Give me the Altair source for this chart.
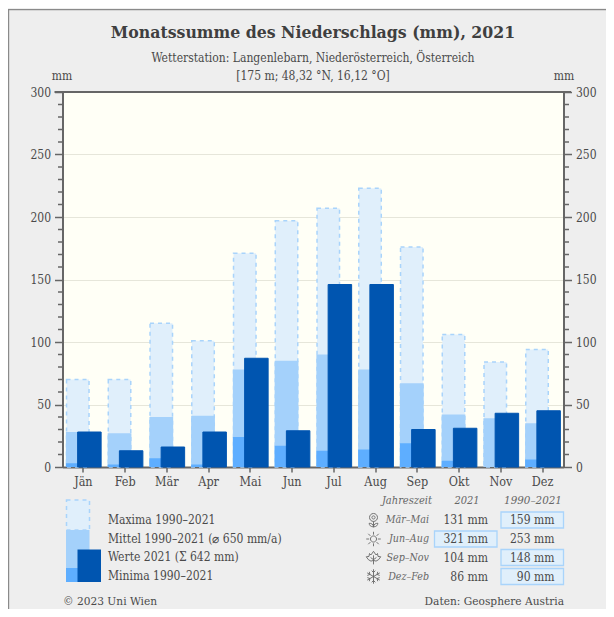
import altair as alt
import pandas as pd

months = ["Jän", "Feb", "Mär", "Apr", "Mai", "Jun", "Jul", "Aug", "Sep", "Okt", "Nov", "Dez"]
maxima = [70, 70, 115, 101, 171, 197, 207, 223, 176, 106, 84, 94]
means = [28, 27, 40, 41, 78, 85, 90, 78, 67, 42, 39, 35]
minima = [3, 2, 7, 2, 24, 17, 13, 14, 19, 5, 0, 6]
values_2021 = [28, 13, 16, 28, 87, 29, 146, 146, 30, 31, 43, 45]
major_ticks = [0, 50, 100, 150, 200, 250, 300]
minor_ticks = [v for v in range(10, 300, 10) if v % 50]

legend_labels = ["Maxima 1990–2021", "Mittel 1990–2021 (⌀ 650 mm/a)", "Werte 2021 (Σ 642 mm)", "Minima 1990–2021"]
season_names = ["Mär–Mai", "Jun–Aug", "Sep–Nov", "Dez–Feb"]
season_2021 = ["131 mm", "321 mm", "104 mm", "86 mm"]
season_clim = ["159 mm", "253 mm", "148 mm", "90 mm"]

FONT = "DejaVu Serif Condensed"
INK = "#4a4a4a"
GREY = "#666666"
C_MAX, C_MAX_LINE = "#e0effb", "#a9d4fb"
C_MEAN, C_MIN, C_VAL = "#a4d1fb", "#5eaeff", "#0055b0"
OX, OY = 62.5, 92.0
W, H = 501, 375

ring = "M{r},{y} A{r},{r} 0 1 1 -{r},{y} A{r},{r} 0 1 1 {r},{y} Z "
ICON_FLOWER = (ring.format(r=0.22, y=-0.35) + ring.format(r=0.55, y=-0.35)
               + "M0,0.2 L0,1 M0,0.95 C-0.4,0.95 -0.6,0.7 -0.6,0.45 C-0.3,0.45 -0.05,0.6 0,0.85 "
               + "M0,0.95 C0.4,0.95 0.6,0.7 0.6,0.45 C0.3,0.45 0.05,0.6 0,0.85")
ICON_SUN = (ring.format(r=0.42, y=0)
            + "M0,-0.6 L0,-1 M0,0.6 L0,1 M-0.6,0 L-1,0 M0.6,0 L1,0 "
            + "M0.43,-0.43 L0.72,-0.72 M-0.43,-0.43 L-0.72,-0.72 M0.43,0.43 L0.72,0.72 M-0.43,0.43 L-0.72,0.72")
ICON_LEAF = ("M0,-0.85 L0.35,-0.35 L0.55,-0.55 L0.62,-0.15 L1,-0.1 L0.7,0.3 L0.35,0.5 L0,0.4 "
             "L-0.35,0.5 L-0.7,0.3 L-1,-0.1 L-0.62,-0.15 L-0.55,-0.55 L-0.35,-0.35 Z "
             "M0,-0.3 L0,0.95 M0,0.3 L-0.4,0 M0,0.3 L0.4,0")
ICON_SNOW = ("M0,-1 L0,1 M-0.87,-0.5 L0.87,0.5 M-0.87,0.5 L0.87,-0.5 "
             "M-0.25,-0.8 L0,-0.55 L0.25,-0.8 M-0.25,0.8 L0,0.55 L0.25,0.8 "
             "M-0.85,-0.15 L-0.5,-0.28 L-0.58,-0.65 M0.85,-0.15 L0.5,-0.28 L0.58,-0.65 "
             "M-0.85,0.15 L-0.5,0.28 L-0.58,0.65 M0.85,0.15 L0.5,0.28 L0.58,0.65")
season_icons = [ICON_FLOWER, ICON_SUN, ICON_LEAF, ICON_SNOW]

df = pd.DataFrame({"m": months, "max": maxima, "mean": means, "min": minima, "val": values_2021})
one = alt.Data(values=[{"a": 1}])
x_axis = alt.Axis(title=None, labelAngle=0, labelFont=FONT, labelFontSize=12.5, labelColor=INK,
                  tickColor=GREY, tickSize=5, tickWidth=1.5, domainColor=GREY, domainWidth=2,
                  labelPadding=3)
xs = alt.X("m:N", sort=months, scale=alt.Scale(paddingInner=0, paddingOuter=0), axis=x_axis)
ys = alt.Scale(domain=[0, 300], nice=False)


def yax(orient):
    return alt.Axis(title=None, orient=orient, values=major_ticks, labelFont=FONT, labelFontSize=12,
                    labelColor=INK, tickColor=GREY, tickSize=8, tickWidth=1.5, domainColor=GREY,
                    domainWidth=2, labelPadding=4, grid=orient == "left", gridColor="#e6e6da", gridWidth=1)


def bar(field, fill, offset, size, axis=None, **kw):
    return alt.Chart(df).mark_bar(size=size, xOffset=offset, fill=fill, **kw).encode(
        x=xs, y=alt.Y(f"{field}:Q", scale=ys, axis=axis))


def minor(x1, x2):
    return alt.Chart(pd.DataFrame({"t": minor_ticks})).mark_rule(color=GREY, strokeWidth=1.5).encode(
        y=alt.Y("t:Q", scale=ys, axis=None), x=alt.value(x1), x2=alt.value(x2))


def txt(s, x, y, size=12, color=INK, align="left", **kw):
    return alt.Chart(one).mark_text(text=s, font=FONT, fontSize=size, color=color, align=align,
                                    baseline="middle", **kw).encode(
        x=alt.value(x - OX), y=alt.value(y - OY))


def box(x1, y1, x2, y2, fill, **kw):
    return alt.Chart(one).mark_rect(fill=fill, **kw).encode(
        x=alt.value(x1 - OX), x2=alt.value(x2 - OX), y=alt.value(y1 - OY), y2=alt.value(y2 - OY))


def icon(path, x, y):
    return alt.Chart(one).mark_point(shape=path, size=210, filled=False, stroke=GREY, strokeWidth=0.9,
                                     opacity=1).encode(
        x=alt.value(x - OX), y=alt.value(y - OY))


right_axis = alt.Chart(df).mark_bar(opacity=0).encode(
    x=xs, y=alt.Y("val:Q", scale=ys, axis=yax("right")))

left_layers = [
    bar("max", C_MAX, -5.6, 22.5, axis=yax("left"), stroke=C_MAX_LINE, strokeDash=[4, 4], strokeWidth=1.5),
    bar("mean", C_MEAN, -5.6, 23.8),
    bar("min", C_MIN, -5.6, 23.8),
    bar("val", C_VAL, 6, 23.5, stroke=C_VAL, strokeWidth=1),
    minor(-4.5, 0),
    minor(W, W + 5.5),
]
main = alt.layer(*left_layers, right_axis).resolve_axis(y="independent")

deco = [
    box(8, 9, 606, 10.2, "#8a8a8a"),
    box(8, 9, 9.2, 609, "#8a8a8a"),
    box(54.5, 91, 571, 93, GREY),
    txt("Monatssumme des Niederschlags (mm), 2021", 313, 33, 17.5, "#3f3f3f", "center", fontWeight="bold"),
    txt("Wetterstation: Langenlebarn, Niederösterreich, Österreich", 313, 58, 12, INK, "center"),
    txt("[175 m; 48,32 °N, 16,12 °O]", 313, 76, 12, INK, "center"),
    txt("mm", 62, 76, 12, INK, "center"),
    txt("mm", 564, 76, 12, INK, "center"),
    # legend swatch
    box(66.5, 500, 89.5, 530, C_MAX, stroke=C_MAX_LINE, strokeDash=[4, 4], strokeWidth=1.5),
    box(66, 530, 89.5, 568, C_MEAN),
    box(66, 568, 89.5, 582, C_MIN),
    box(77.5, 549.5, 101, 582, C_VAL),
    # footer
    txt("© 2023 Uni Wien", 63, 600.5, 11.8, INK),
    txt("Daten: Geosphere Austria", 564, 600.5, 11.8, INK, "right"),
    # season table header
    txt("Jahreszeit", 432, 500.5, 11, GREY, "right", fontStyle="italic"),
    txt("2021", 467, 500.5, 11, GREY, "center", fontStyle="italic"),
    txt("1990–2021", 533, 500.5, 11.5, GREY, "center", fontStyle="italic"),
]

for i, label in enumerate(legend_labels):
    deco.append(txt(label, 108, 520 + i * 18.7, 12, INK))

row_y = [520, 539, 557.5, 576.5]
for i in range(4):
    y = row_y[i]
    deco.append(icon(season_icons[i], 373.5, y))
    deco.append(txt(season_names[i], 429, y, 10.6, GREY, "right", fontStyle="italic"))
    if season_2021[i] == "321 mm":
        deco.append(box(434.5, y - 8, 497, y + 8, C_MAX, stroke=C_MAX_LINE, strokeWidth=1.3))
    if season_clim[i] != "253 mm":
        deco.append(box(501, y - 8, 563.5, y + 8, C_MAX, stroke=C_MAX_LINE, strokeWidth=1.3))
    deco.append(txt(season_2021[i], 488, y, 12, INK, "right"))
    deco.append(txt(season_clim[i], 554.5, y, 12, INK, "right"))

TOTAL_W, TOTAL_H = 598, 601
chart = alt.layer(main, *deco).properties(
    width=W, height=H, background="#eeeeee",
    padding={"left": OX - 8, "top": OY - 8, "right": TOTAL_W - (OX - 8) - W, "bottom": TOTAL_H - (OY - 8) - H},
    autosize=alt.AutoSizeParams(type="none"),
).configure_view(fill="#fffff6", stroke=None)

chart.save("out.html", embed_options={"renderer": "svg", "actions": False})
